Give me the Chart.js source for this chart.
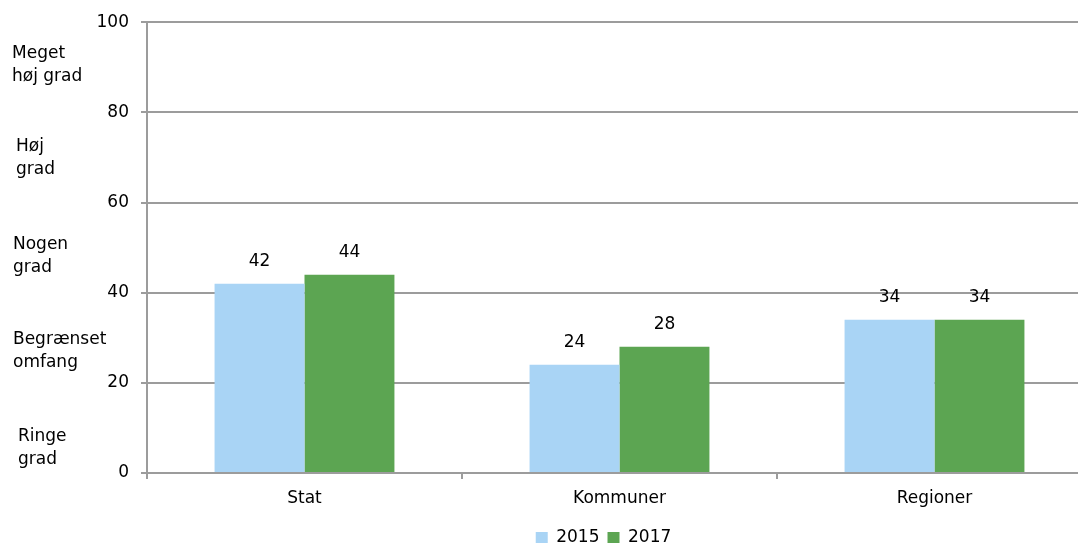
<!DOCTYPE html>
<html>
<head>
<meta charset="utf-8">
<script src="https://cdn.jsdelivr.net/npm/chart.js@4"></script>
<style>
    html, body { margin: 0; padding: 0; overflow: hidden; background: #fff; }
    #wrap { width: 1100px; height: 547px; position: relative; }
</style>
</head>
<body>
<div id="wrap"><canvas id="chart"></canvas></div>
<script>
// chart data
const categories = ['Stat', 'Kommuner', 'Regioner'];
const seriesNames = ['2015', '2017'];
const values2015 = [42, 24, 34];
const values2017 = [44, 28, 34];
const yTicks = [0, 20, 40, 60, 80, 100];

// text labels for the bands on the left, with the value they sit at
const bandLabels = [['Meget', 'høj grad'], ['Høj', 'grad'], ['Nogen', 'grad'], ['Begrænset', 'omfang'], ['Ringe', 'grad']];
const bandValues = [90.4, 69.9, 48.1, 27.0, 5.6];
const bandX = [12, 16, 13, 13, 18];

const fontFamily = '"DejaVu Sans", Verdana, sans-serif';
const fontSize = 17;
const gridColor = '#9C9C9C';

// draws numbers above bars
const valueLabels = {
    id: 'valueLabels',
    afterDatasetsDraw(chart) {
        const ctx = chart.ctx;
        ctx.save();
        ctx.font = fontSize + 'px ' + fontFamily;
        ctx.fillStyle = '#000';
        ctx.textAlign = 'center';
        ctx.textBaseline = 'middle';
        chart.data.datasets.forEach((ds, i) => {
            chart.getDatasetMeta(i).data.forEach((bar, j) => {
                ctx.fillText(ds.data[j], bar.x, bar.y - 22);
            });
        });
        ctx.restore();
    }
};

// draws the band texts left of the y axis
const bandText = {
    id: 'bandText',
    afterDraw(chart) {
        const ctx = chart.ctx;
        const y = chart.scales.y;
        ctx.save();
        ctx.font = fontSize + 'px ' + fontFamily;
        ctx.fillStyle = '#000';
        ctx.textAlign = 'left';
        ctx.textBaseline = 'middle';
        bandLabels.forEach((lines, i) => {
            let cy = y.getPixelForValue(bandValues[i]);
            ctx.fillText(lines[0], bandX[i], cy - 11.5);
            ctx.fillText(lines[1], bandX[i], cy + 11.5);
        });
        ctx.restore();
    }
};

// nudge the legend like the original
const legendShift = {
    id: 'legendShift',
    afterLayout(chart) {
        chart.legend.left -= 16;
        chart.legend.right -= 16;
        chart.legend.top += 9;
        chart.legend.bottom += 9;
    }
};

new Chart(document.getElementById('chart'), {
    type: 'bar',
    data: {
        labels: categories,
        datasets: [
            {label: seriesNames[0], data: values2015, backgroundColor: '#A9D4F5'},
            {label: seriesNames[1], data: values2017, backgroundColor: '#5CA552'}
        ]
    },
    options: {
        responsive: true,
        maintainAspectRatio: false,
        animation: false,
        layout: {padding: {top: 20, right: 8, left: 0, bottom: 0}},
        categoryPercentage: 0.571,
        barPercentage: 1,
        plugins: {
            tooltip: {enabled: false},
            legend: {
                position: 'bottom',
                fullSize: false,
                labels: {
                    font: {family: fontFamily, size: fontSize},
                    color: '#000',
                    boxWidth: 12,
                    boxHeight: 11,
                    padding: 8
                }
            }
        },
        scales: {
            x: {
                grid: {
                    drawOnChartArea: false,
                    color: gridColor,
                    lineWidth: 2,
                    tickLength: 6
                },
                border: {color: gridColor, width: 2},
                ticks: {
                    font: {family: fontFamily, size: fontSize},
                    color: '#000',
                    padding: 9
                },
                afterFit(scale) { scale.height = 39; }
            },
            y: {
                min: 0,
                max: 100,
                afterBuildTicks(scale) {
                    scale.ticks = yTicks.map(v => ({value: v}));
                },
                grid: {color: gridColor, lineWidth: 2, tickLength: 6},
                border: {color: gridColor, width: 2},
                ticks: {
                    font: {family: fontFamily, size: fontSize},
                    color: '#000',
                    padding: 12
                },
                afterFit(scale) { scale.width = 147; }
            }
        }
    },
    plugins: [valueLabels, bandText, legendShift]
});
</script>
</body>
</html>
